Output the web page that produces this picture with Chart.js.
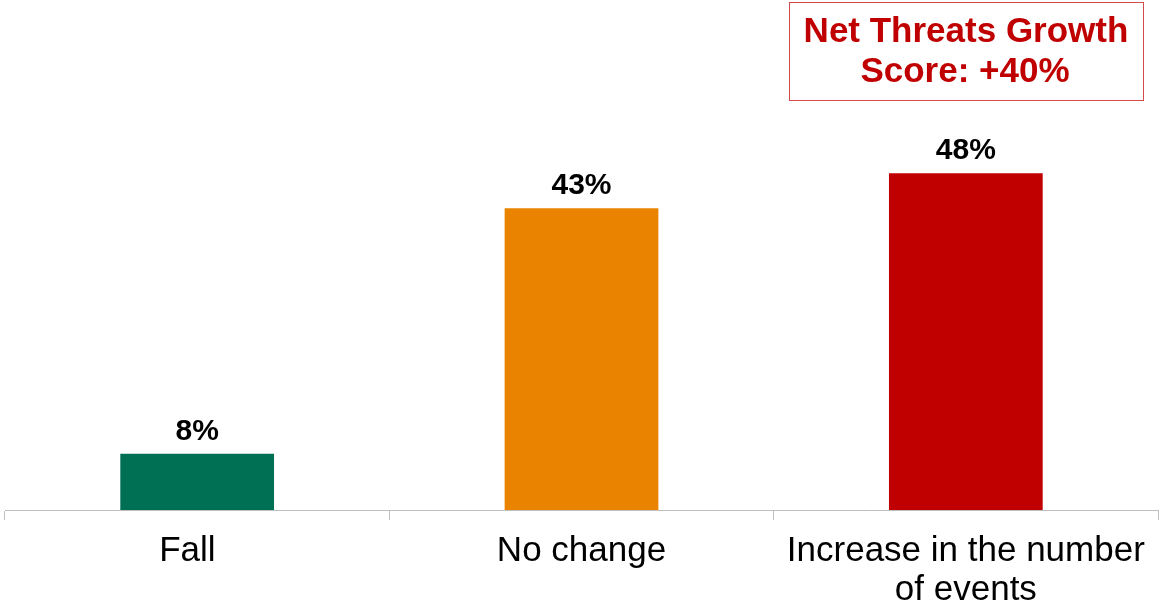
<!DOCTYPE html>
<html>
<head>
<meta charset="utf-8">
<script src="https://cdn.jsdelivr.net/npm/chart.js@4"></script>
<style>
  html, body { margin: 0; padding: 0; background: #fff; }
  #wrap { width: 1160px; height: 610px; position: relative; }
</style>
</head>
<body>
<div id="wrap"><canvas id="chart"></canvas></div>
<script>
// Expected change in number of events
const categories = ['Fall  ', 'No change', ['Increase in the number', 'of events']];
const shares = [8, 43, 48];
const barColors = ['#007055', '#E98300', '#C00000'];
const scoreLines = ['Net Threats Growth', 'Score: +40%'];

// Percent labels above each bar
const valueLabels = {
    id: 'valueLabels',
    afterDatasetsDraw(chart) {
        const ctx = chart.ctx;
        const meta = chart.getDatasetMeta(0);
        ctx.save();
        ctx.font = 'bold 30px "Liberation Sans", Arial, sans-serif';
        ctx.fillStyle = '#000';
        ctx.textAlign = 'center';
        ctx.textBaseline = 'alphabetic';
        meta.data.forEach((bar, i) => {
            ctx.fillText(shares[i] + '%', bar.x, bar.y - 14);
        });
        ctx.restore();
    }
};

// Boxed score in the top right corner
const scoreBox = {
    id: 'scoreBox',
    afterDraw(chart) {
        const ctx = chart.ctx;
        ctx.save();
        ctx.strokeStyle = '#D24B4B';
        ctx.lineWidth = 1;
        ctx.strokeRect(789.5, 2.5, 354, 98);
        ctx.font = 'bold 35px "Liberation Sans", Arial, sans-serif';
        ctx.fillStyle = '#C00000';
        ctx.textAlign = 'center';
        ctx.textBaseline = 'alphabetic';
        ctx.fillText(scoreLines[0], 966, 42);
        ctx.fillText(scoreLines[1], 965, 82);
        ctx.restore();
    }
};

new Chart(document.getElementById('chart'), {
    type: 'bar',
    data: {
        labels: categories,
        datasets: [{
            data: shares,
            backgroundColor: barColors,
            borderWidth: 0,
            categoryPercentage: 0.4,
            barPercentage: 1.0
        }]
    },
    plugins: [valueLabels, scoreBox],
    options: {
        responsive: true,
        maintainAspectRatio: false,
        animation: false,
        layout: { padding: { left: 5, right: 2, top: 89, bottom: 0 } },
        plugins: {
            legend: { display: false },
            tooltip: { enabled: false }
        },
        scales: {
            x: {
                offset: true,
                grid: {
                    offset: true,
                    drawOnChartArea: false,
                    drawTicks: true,
                    tickLength: 10,
                    color: '#BFBFBF'
                },
                border: { display: true, color: '#BFBFBF', width: 1 },
                ticks: {
                    color: '#000',
                    padding: 12,
                    maxRotation: 0,
                    autoSkip: false,
                    font: { family: '"Liberation Sans", Arial, sans-serif', size: 35, lineHeight: 1.12 }
                },
                afterFit(axis) { axis.height = 100; }
            },
            y: {
                display: false,
                min: 0,
                max: 60
            }
        }
    }
});
</script>
</body>
</html>
